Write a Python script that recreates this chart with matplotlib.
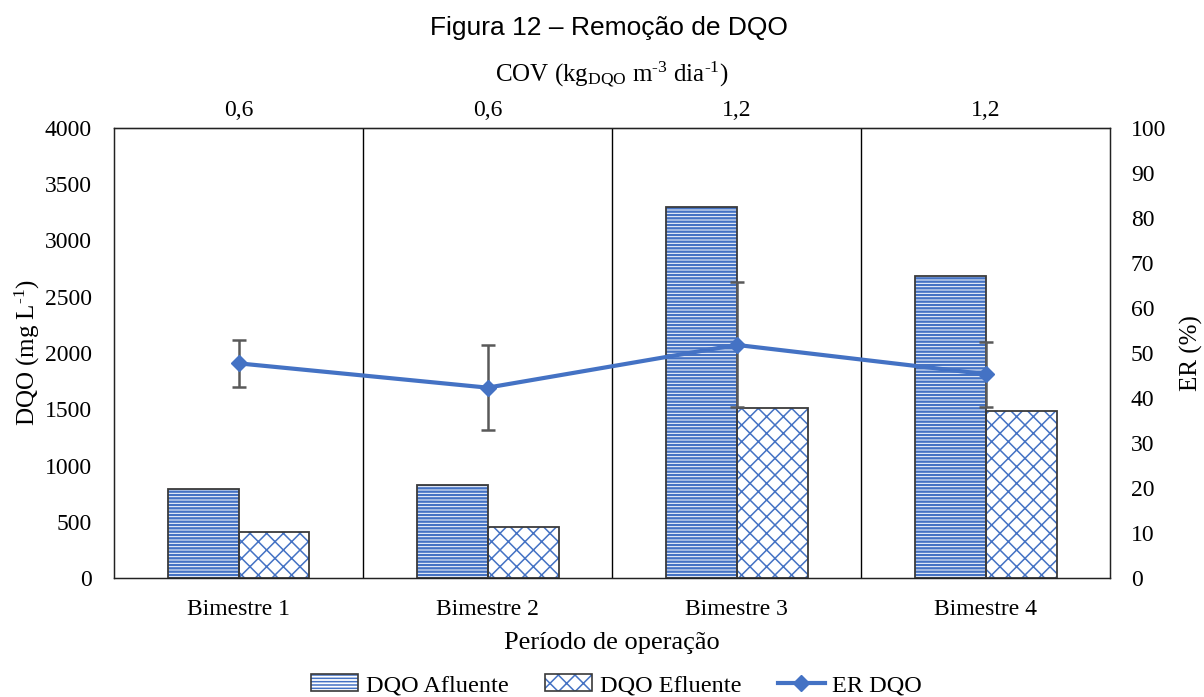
import matplotlib
matplotlib.use("Agg")
import matplotlib.pyplot as plt
from matplotlib.patches import Patch
from matplotlib.lines import Line2D
from matplotlib.legend_handler import HandlerTuple
import numpy as np

# Data
periodos = ["Bimestre 1", "Bimestre 2", "Bimestre 3", "Bimestre 4"]
cov_labels = ["0,6", "0,6", "1,2", "1,2"]
dqo_afluente = [795, 830, 3300, 2680]
dqo_efluente = [410, 455, 1510, 1485]
er_dqo = [47.7, 42.3, 51.8, 45.3]
er_erro = [5.2, 9.5, 13.9, 7.2]

blue = "#4472C4"
outline = "#3a3a3a"
serif = "Liberation Serif"
plt.rcParams["mathtext.fontset"] = "custom"
plt.rcParams["mathtext.rm"] = serif
plt.rcParams["mathtext.it"] = serif + ":italic"

fig = plt.figure(figsize=(12.04, 6.97), dpi=100)
ax = fig.add_axes([0.0947, 0.1707, 0.8273, 0.6457])

x = np.arange(len(periodos))
w = 0.285

# hatched fills first, then dark outlines on top
plt.rcParams["hatch.linewidth"] = 1.7
ax.bar(x - w / 2, dqo_afluente, w, facecolor="white", edgecolor=blue,
       hatch="-----", linewidth=0, zorder=2)
plt.rcParams["hatch.linewidth"] = 1.1
ax.bar(x + w / 2, dqo_efluente, w, facecolor="white", edgecolor=blue,
       hatch="xx", linewidth=0, zorder=2)
ax.bar(x - w / 2, dqo_afluente, w, fill=False, edgecolor=outline,
       linewidth=1.3, zorder=3)
ax.bar(x + w / 2, dqo_efluente, w, fill=False, edgecolor=outline,
       linewidth=1.3, zorder=3)

ax.set_xlim(-0.5, len(periodos) - 0.5)
ax.set_ylim(0, 4000)
ax.set_yticks(np.arange(0, 4001, 500))
ax.set_xticks(x)
ax.set_xticklabels(periodos, fontfamily=serif, fontsize=17)
for lab in ax.get_yticklabels():
    lab.set_fontfamily(serif)
    lab.set_fontsize(17)
ax.tick_params(axis="x", length=0, pad=15)
ax.tick_params(axis="y", length=0, pad=16)

for b in x[:-1] + 0.5:
    ax.axvline(b, color="black", linewidth=1.0, zorder=1)
for s in ax.spines.values():
    s.set_color("#222222")
    s.set_linewidth(1.0)

ax.set_ylabel(r"DQO (mg L$^{\text{-}1}$)", fontfamily=serif, fontsize=18)
ax.yaxis.set_label_coords(-0.0723, 0.5)
ax.set_xlabel("Período de operação", fontfamily=serif, fontsize=19,
              labelpad=9)

# removal efficiency on the secondary axis
ax2 = ax.twinx()
ax2.set_ylim(0, 100)
ax2.set_yticks(np.arange(0, 101, 10))
for lab in ax2.get_yticklabels():
    lab.set_fontfamily(serif)
    lab.set_fontsize(17)
ax2.tick_params(length=0, pad=15)
ax2.errorbar(x, er_dqo, yerr=er_erro, fmt="none", ecolor="#595959",
             elinewidth=1.8, capsize=5, capthick=1.8, zorder=4)
ax2.plot(x, er_dqo, color=blue, linewidth=3, marker="D", markersize=8,
         zorder=5)
ax2.set_ylabel("ER (%)", fontfamily=serif, fontsize=18)
ax2.yaxis.set_label_coords(1.0703, 0.5)
for s in ax2.spines.values():
    s.set_color("#222222")

# organic loading rate labels on top
ax3 = ax.secondary_xaxis("top")
ax3.set_xticks(x)
ax3.set_xticklabels(cov_labels, fontfamily=serif, fontsize=17)
ax3.tick_params(length=0, pad=5)
ax3.set_xlabel(r"COV (kg$_{\mathrm{DQO}}$ m$^{\text{-}3}$ dia$^{\text{-}1}$)",
               fontfamily=serif, fontsize=18, labelpad=13)

fig.text(0.506, 0.960, "Figura 12 – Remoção de DQO", ha="center",
         va="center", fontfamily="Liberation Sans", fontsize=19)

plt.rcParams["hatch.linewidth"] = 1.7
h_af = Patch(facecolor="white", edgecolor=blue, hatch="-----", linewidth=0)
plt.rcParams["hatch.linewidth"] = 1.1
h_ef = Patch(facecolor="white", edgecolor=blue, hatch="xx", linewidth=0)
h_box1 = Patch(fill=False, edgecolor=outline, linewidth=1.2)
h_box2 = Patch(fill=False, edgecolor=outline, linewidth=1.2)
h_er = Line2D([], [], color=blue, linewidth=3, marker="D", markersize=8)

fig.legend([(h_af, h_box1), (h_ef, h_box2), h_er],
           ["DQO Afluente", "DQO Efluente", "ER DQO"],
           handler_map={tuple: HandlerTuple(ndivide=1, pad=0)},
           loc="center", bbox_to_anchor=(0.512, 0.017), ncol=3,
           frameon=False, prop={"family": serif, "size": 17.5},
           handlelength=1.95, handleheight=0.7, columnspacing=1.5,
           handletextpad=0.3)

fig.savefig("out.png", dpi=100)
